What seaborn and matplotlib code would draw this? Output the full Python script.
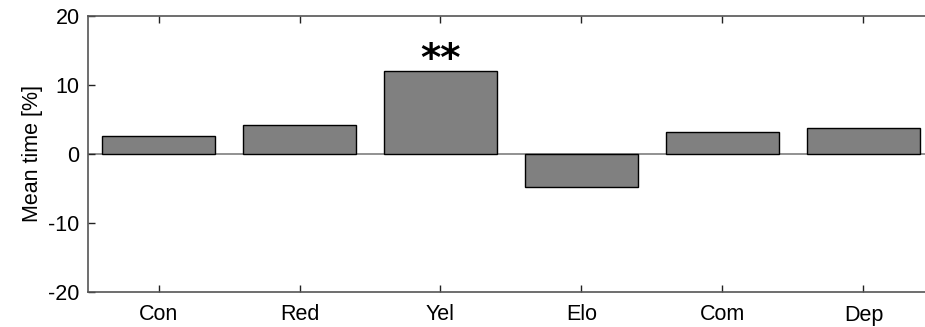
import matplotlib
matplotlib.use("Agg")
import matplotlib.pyplot as plt
import seaborn as sns
import pandas as pd

# data
conditions = ["Con", "Red", "Yel", "Elo", "Com", "Dep"]
mean_time = [2.6, 4.2, 12.0, -4.8, 3.2, 3.8]
stars_label = "**"
stars_at = "Yel"
stars_y = 13.6

sns.set_theme(style="white")
plt.rcParams["font.family"] = ["Liberation Sans", "DejaVu Sans"]
plt.rcParams["axes.unicode_minus"] = False

df = pd.DataFrame({"cond": conditions, "mean": mean_time})

fig = plt.figure(figsize=(9.25, 3.27), dpi=100)
# axes runs a little past the right edge, like the cropped original
ax = fig.add_axes([88 / 925, 35 / 327, 846 / 925, 276 / 327])

sns.barplot(data=df, x="cond", y="mean", color="#808080", saturation=1,
            width=0.8, edgecolor="black", linewidth=1.0, ax=ax)

ax.axhline(0, color="#7f7f7f", linewidth=1.2, zorder=0.5)

ax.set_xlim(-0.5, len(conditions) - 0.5)
ax.set_ylim(-20, 20)
ax.set_yticks([-20, -10, 0, 10, 20])
ax.set_xlabel("")
ax.set_ylabel("Mean time [%]", fontsize=15.5, labelpad=4, color="black")

ax.tick_params(axis="both", direction="in", length=5, width=1, color="#222222",
               labelsize=15.5, labelcolor="black", top=True, right=True,
               left=True, bottom=True, pad=6)
ax.tick_params(axis="x", pad=9)
for s in ax.spines.values():
    s.set_visible(True)
    s.set_color("#555555")
    s.set_linewidth(1.2)

ax.text(conditions.index(stars_at), stars_y, stars_label, ha="center", va="center",
        fontsize=28, fontweight="bold", color="black", family="DejaVu Sans")

fig.savefig("out.png", dpi=100)
